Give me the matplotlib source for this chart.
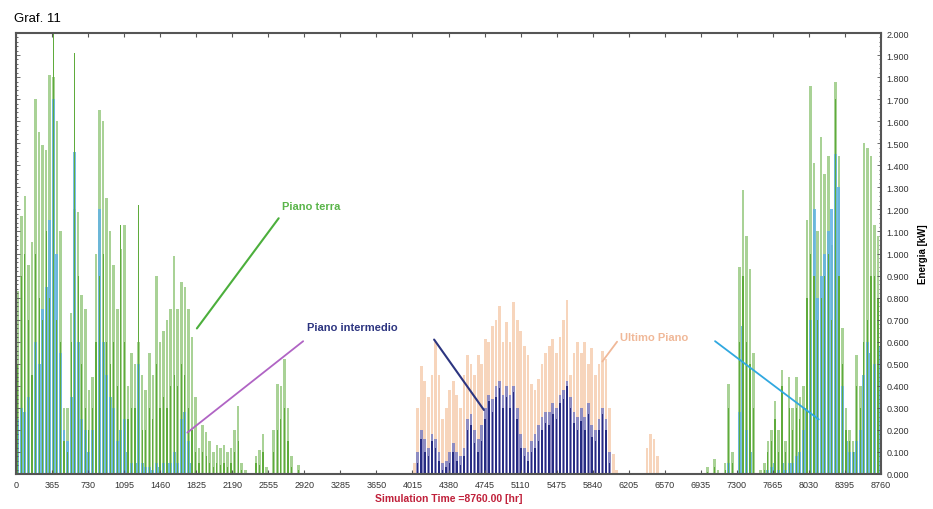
"""
Graf. 11 - energia oraria per piano (TRNSYS style)
"""

import numpy as np
from matplotlib import pyplot as plt
from matplotlib.ticker import MultipleLocator, FormatStrFormatter

# ---- data (kW) ----
# winter bins: centre hour = 18 + 36*i
winter_start, bin_h = 18, 36
terra_light_w = [0.83, 1.17, 1.26, 0.95, 1.05, 1.70, 1.55, 1.49, 1.47, 1.81,
                 1.80, 1.60, 1.10, 0.30, 0.30, 0.73, 1.20, 1.19, 0.81, 0.75,
                 0.38, 0.44, 1.00, 1.65, 1.60, 1.25, 1.10, 0.95, 0.75, 1.02,
                 1.13, 0.40, 0.55, 0.50, 0.60, 0.45, 0.38, 0.55, 0.45, 0.90,
                 0.60, 0.65, 0.70, 0.75, 0.99, 0.75, 0.87, 0.85, 0.75, 0.62,
                 0.35, 0.12, 0.22, 0.19, 0.15, 0.10, 0.13, 0.12, 0.13, 0.10,
                 0.12, 0.20, 0.31, 0.05, 0.02, 0.00, 0.00, 0.08, 0.11, 0.18,
                 0.03, 0.00, 0.20, 0.41, 0.40, 0.52, 0.30, 0.08, 0.00, 0.04,
                 0.00]
terra_dark_w = [0.50, 0.90, 1.00, 0.70, 0.45, 1.00, 0.80, 0.70, 1.10, 0.80,
                2.00, 0.70, 0.60, 0.15, 0.10, 0.60, 1.91, 0.90, 0.50, 0.30,
                0.20, 0.30, 0.60, 0.90, 1.00, 0.60, 0.50, 0.60, 0.40, 1.13,
                0.60, 0.25, 0.30, 0.30, 1.22, 0.20, 0.20, 0.30, 0.25, 0.50,
                0.30, 0.35, 0.30, 0.40, 0.45, 0.40, 0.50, 0.45, 0.30, 0.20,
                0.10, 0.05, 0.10, 0.08, 0.05, 0.03, 0.05, 0.04, 0.05, 0.03,
                0.05, 0.10, 0.15, 0.02, 0.00, 0.00, 0.00, 0.05, 0.04, 0.10,
                0.00, 0.00, 0.10, 0.20, 0.25, 0.30, 0.15, 0.03, 0.00, 0.02,
                0.00]
blue_w = [0.25, 0.30, 0.28, 0.35, 0.45, 0.60, 0.50, 0.75, 0.85, 1.15,
          1.70, 1.00, 0.55, 0.20, 0.15, 0.35, 1.46, 0.60, 0.25, 0.20,
          0.10, 0.20, 0.45, 1.20, 0.60, 0.45, 0.35, 0.30, 0.15, 0.20,
          0.25, 0.10, 0.05, 0.05, 0.50, 0.05, 0.03, 0.03, 0.02, 0.05,
          0.03, 0.05, 0.05, 0.05, 0.10, 0.05, 0.25, 0.28, 0.15, 0.05]

# summer bins: centre hour = 4032 + 36*j
summer_start = 4032
ultimo_s = [0.05, 0.30, 0.49, 0.42, 0.35, 0.45, 0.60, 0.45, 0.25, 0.30,
            0.38, 0.42, 0.36, 0.30, 0.45, 0.54, 0.50, 0.45, 0.54, 0.50,
            0.61, 0.60, 0.67, 0.70, 0.76, 0.60, 0.69, 0.60, 0.78, 0.70,
            0.65, 0.58, 0.54, 0.41, 0.38, 0.43, 0.50, 0.55, 0.58, 0.61,
            0.55, 0.62, 0.70, 0.79, 0.45, 0.55, 0.60, 0.55, 0.60, 0.50,
            0.57, 0.45, 0.50, 0.56, 0.52, 0.30, 0.09, 0.02, 0.00]
interm_s = [0.00, 0.05, 0.16, 0.10, 0.08, 0.15, 0.12, 0.06, 0.02, 0.03,
            0.05, 0.10, 0.06, 0.04, 0.08, 0.20, 0.22, 0.14, 0.10, 0.15,
            0.25, 0.33, 0.28, 0.35, 0.39, 0.30, 0.35, 0.30, 0.37, 0.25,
            0.12, 0.08, 0.06, 0.10, 0.12, 0.15, 0.20, 0.23, 0.22, 0.27,
            0.25, 0.32, 0.34, 0.40, 0.30, 0.23, 0.20, 0.24, 0.20, 0.27,
            0.17, 0.15, 0.20, 0.27, 0.20, 0.05, 0.00, 0.00, 0.00]
interm_light_s = [0.00, 0.10, 0.20, 0.16, 0.12, 0.18, 0.16, 0.10, 0.05, 0.06,
                  0.10, 0.14, 0.10, 0.08, 0.12, 0.25, 0.27, 0.20, 0.16, 0.22,
                  0.30, 0.36, 0.34, 0.40, 0.42, 0.36, 0.40, 0.36, 0.40, 0.30,
                  0.18, 0.12, 0.10, 0.15, 0.18, 0.22, 0.26, 0.28, 0.28, 0.32,
                  0.30, 0.36, 0.38, 0.42, 0.35, 0.28, 0.26, 0.30, 0.26, 0.32,
                  0.22, 0.20, 0.25, 0.30, 0.25, 0.10, 0.00, 0.00, 0.00]
bump_hours = [6390, 6426, 6462, 6498]
ultimo_bump = [0.12, 0.18, 0.16, 0.08]

# late-year bins: centre hour = 6858 + 36*k
late_start = 6858
terra_light_l = [0.00, 0.00, 0.00, 0.00, 0.03, 0.00, 0.07, 0.02, 0.00, 0.05,
                 0.41, 0.10, 0.00, 0.94, 1.29, 1.08, 0.93, 0.55, 0.00, 0.02,
                 0.05, 0.15, 0.20, 0.33, 0.20, 0.47, 0.15, 0.44, 0.30, 0.44,
                 0.35, 0.40, 1.15, 1.76, 1.41, 1.10, 1.53, 1.36, 1.44, 1.04,
                 1.78, 1.44, 0.66, 0.30, 0.20, 0.15, 0.54, 0.40, 1.50, 1.48,
                 1.44, 1.13, 1.08]
terra_dark_l = [0.00, 0.00, 0.00, 0.00, 0.01, 0.00, 0.03, 0.00, 0.00, 0.02,
                0.30, 0.05, 0.00, 0.60, 0.90, 0.60, 0.50, 0.30, 0.00, 0.00,
                0.02, 0.10, 0.15, 0.25, 0.10, 0.40, 0.10, 0.30, 0.20, 0.30,
                0.25, 0.30, 0.80, 1.00, 0.90, 0.70, 0.80, 0.90, 1.00, 0.70,
                1.70, 0.90, 0.50, 0.20, 0.15, 0.10, 0.40, 0.30, 0.60, 0.70,
                0.90, 0.90, 0.80]
blue_l = [0.00, 0.00, 0.00, 0.00, 0.00, 0.00, 0.00, 0.00, 0.00, 0.00,
          0.05, 0.00, 0.00, 0.28, 0.67, 0.20, 0.10, 0.00, 0.00, 0.00,
          0.00, 0.02, 0.03, 0.05, 0.02, 0.05, 0.02, 0.05, 0.05, 0.08,
          0.10, 0.20, 0.30, 0.70, 1.20, 0.80, 0.90, 1.00, 1.10, 1.20,
          1.45, 1.30, 0.40, 0.15, 0.10, 0.10, 0.15, 0.20, 0.45, 0.60,
          0.55, 0.50, 0.58]

x_ticks = list(range(0, 8761, 365))

# ---- colours ----
c_light = "#a9d296"
c_dark = "#5fab3c"
c_blue = "#62b3e4"
c_peach = "#f7d5bc"
c_navy = "#262b82"
c_lav = "#8e8cc2"


def centres(start, vals):
    return start + bin_h * np.arange(len(vals))


fig = plt.figure(figsize=(9.33, 5.10), dpi=100)
ax = fig.add_axes([16 / 933, 35 / 510, 865 / 933, 441 / 510])

# winter / late year - Piano terra + blue
for start, light, dark, blue in [(winter_start, terra_light_w, terra_dark_w, blue_w),
                                 (late_start, terra_light_l, terra_dark_l, blue_l)]:
    ax.bar(centres(start, light), light, width=26, color=c_light, linewidth=0)
    ax.bar(centres(start, blue), blue, width=30, color=c_blue, linewidth=0, alpha=0.85)
    ax.bar(centres(start, dark), dark, width=12, color=c_dark, linewidth=0)

# summer - Ultimo piano + Piano intermedio
ax.bar(centres(summer_start, ultimo_s), ultimo_s, width=28, color=c_peach, linewidth=0)
ax.bar(bump_hours, ultimo_bump, width=28, color=c_peach, linewidth=0)
ax.bar(centres(summer_start, interm_light_s), interm_light_s, width=28, color=c_lav, linewidth=0)
ax.bar(centres(summer_start, interm_s), interm_s, width=16, color=c_navy, linewidth=0)

# annotations
ax.annotate("", xy=(1815, 0.65), xytext=(2677, 1.17),
            arrowprops=dict(arrowstyle="-", color="#4caf3c", lw=1.5))
ax.text(2690, 1.215, "Piano terra", color="#5ab54a", fontsize=8, fontweight="bold",
        va="center", family="Liberation Sans")
ax.annotate("", xy=(1713, 0.18), xytext=(2930, 0.61),
            arrowprops=dict(arrowstyle="-", color="#b064c4", lw=1.3))
ax.text(2950, 0.667, "Piano intermedio", color="#2d3580", fontsize=8, fontweight="bold",
        va="center", family="Liberation Sans")
ax.annotate("", xy=(4755, 0.28), xytext=(4218, 0.62),
            arrowprops=dict(arrowstyle="-", color="#2c3580", lw=1.5))
ax.annotate("", xy=(5921, 0.50), xytext=(6104, 0.61),
            arrowprops=dict(arrowstyle="-", color="#f0b898", lw=1.3))
ax.text(6120, 0.62, "Ultimo Piano", color="#f0b898", fontsize=8, fontweight="bold",
        va="center", family="Liberation Sans")
ax.annotate("", xy=(8152, 0.24), xytext=(7057, 0.61),
            arrowprops=dict(arrowstyle="-", color="#30a8e0", lw=1.3))

# axes styling
ax.set_xlim(0, 8760)
ax.set_ylim(0, 2.0)
ax.set_xticks(x_ticks)
ax.set_xticklabels([str(t) for t in x_ticks], fontsize=6.5, color="#333333",
                   family="Liberation Sans")
ax.yaxis.tick_right()
ax.yaxis.set_label_position("right")
ax.yaxis.set_major_locator(MultipleLocator(0.1))
ax.yaxis.set_major_formatter(FormatStrFormatter("%.3f"))
ax.yaxis.set_minor_locator(MultipleLocator(0.02))
for lab in ax.get_yticklabels():
    lab.set_fontsize(6.5)
    lab.set_color("#333333")
    lab.set_family("Liberation Sans")
ax.tick_params(axis="y", which="both", direction="in", left=True, right=True,
               length=3, width=0.6, color="#555555", pad=4)
ax.tick_params(axis="y", which="minor", length=1.5)
ax.tick_params(axis="x", direction="in", top=True, bottom=True, length=3, width=0.8,
               color="#555555", pad=4)
for s in ax.spines.values():
    s.set_color("#555555")
    s.set_linewidth(1.5)

ax.set_ylabel("Energia [kW]", fontsize=7, fontweight="bold", family="Liberation Sans",
              labelpad=6)
ax.set_xlabel("Simulation Time =8760.00 [hr]", fontsize=7.5, fontweight="bold",
              color="#c0203a", family="Liberation Sans", labelpad=3)

fig.text(14 / 933, 1 - 19 / 510, "Graf. 11", fontsize=9.5, va="center",
         family="Liberation Sans")

plt.savefig("out.png", dpi=100)
plt.close()
